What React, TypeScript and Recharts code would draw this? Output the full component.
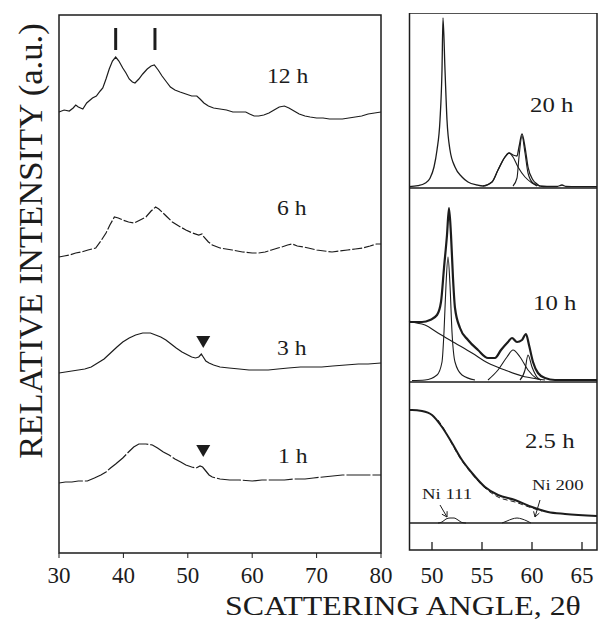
import { LineChart, Line, XAxis, YAxis, ReferenceArea, ReferenceLine, ReferenceDot } from 'recharts';

// left panel: milling time traces, 2θ vs relative intensity (a.u., stacked)
const LEFT_TICKS = [30, 40, 50, 60, 70, 80];
const RIGHT_TICKS = [50, 55, 60, 65];

const H12 = [
  [30, 441], [30.8, 443], [31.6, 442], [32.2, 445], [32.6, 448], [33.0, 446], [33.7, 444], [34.3, 450],
  [35.2, 455], [35.8, 457], [36.4, 462], [36.8, 465], [37.3, 474], [37.8, 484], [38.3, 492], [38.8, 496],
  [39.3, 492], [39.9, 485], [40.4, 480], [40.9, 474], [41.4, 471], [41.8, 470], [42.4, 474], [43.0, 479],
  [43.7, 484], [44.3, 487], [44.8, 488], [45.4, 483], [46.0, 477], [46.7, 471], [47.3, 466], [48.0, 463],
  [48.8, 461], [49.7, 459], [50.6, 457], [51.4, 457], [51.9, 454], [52.5, 450], [53.2, 447], [54.0, 445],
  [55.0, 444], [56.0, 443], [57.0, 441], [58.0, 441], [59.0, 441], [59.6, 439], [60.3, 437], [61.0, 437],
  [61.8, 438], [62.6, 440], [63.4, 443], [64.2, 446], [65.0, 447], [65.7, 445], [66.5, 442], [67.3, 439],
  [68.2, 437], [69.0, 436], [70.0, 435], [71.0, 435], [72.0, 434], [73.0, 434], [74.0, 434], [75.0, 435],
  [76.0, 436], [77.0, 437], [78.0, 439], [79.0, 440], [80, 441],
];
const H6 = [
  [30, 296], [30.8, 297], [31.6, 298], [32.6, 300], [33.5, 301], [34.5, 303], [35.7, 305], [36.5, 312],
  [37.3, 320], [37.9, 328], [38.6, 336], [39.2, 335], [39.9, 333], [40.8, 331], [41.7, 330], [42.6, 333],
  [43.5, 336], [44.3, 342], [45.0, 346], [45.5, 344], [46.0, 341], [46.8, 336], [47.6, 331], [48.6, 327],
  [49.7, 323], [50.7, 320], [51.7, 318], [52.2, 319], [52.5, 316], [53.2, 311], [53.8, 308], [55.0, 305],
  [56.9, 303], [58.5, 301], [60.0, 300], [61.0, 300], [62.0, 301], [63.0, 303], [64.0, 305], [64.6, 306],
  [65.5, 308], [66.2, 309], [67.0, 307], [68.0, 306], [68.7, 305], [70.0, 303], [71.2, 302], [72.4, 301],
  [73.5, 302], [74.8, 303], [76.0, 304], [77.2, 305], [78.3, 307], [79.3, 309], [80, 309],
];
const H3 = [
  [30, 180], [31.0, 181], [32.0, 182], [33.0, 183], [34.0, 184], [35.0, 186], [36.0, 190], [37.0, 194],
  [38.0, 200], [39.0, 206], [39.9, 211], [40.9, 215], [41.9, 218], [43.0, 220], [44.2, 220], [45.0, 218],
  [45.8, 216], [46.6, 213], [47.4, 209], [48.2, 205], [49.1, 201], [50.0, 198], [50.6, 196], [51.2, 195],
  [51.7, 196], [52.1, 199], [52.4, 196], [52.8, 192], [53.3, 190], [54.0, 188], [55.0, 186], [56.4, 185],
  [58.0, 184], [59.5, 183], [61.0, 183], [62.5, 183], [64.0, 184], [65.6, 185], [67.5, 186], [69.0, 186],
  [70.8, 186], [72.5, 187], [74.5, 188], [76.5, 189], [78.0, 189], [80, 190],
];
const H1 = [
  [30, 70], [31.0, 71], [32.0, 71], [33.0, 72], [34.4, 72], [35.5, 75], [36.5, 78], [37.3, 81], [38.0, 85],
  [38.8, 89], [39.9, 95], [40.8, 101], [41.6, 106], [42.4, 109], [43.5, 109], [44.5, 108], [45.3, 105],
  [46.2, 101], [47.1, 98], [48.0, 94], [48.9, 91], [49.7, 88], [50.6, 86], [51.3, 85], [51.9, 87], [52.3, 86],
  [52.8, 82], [53.3, 78], [53.8, 76], [55.0, 74], [56.5, 73], [58.0, 73], [60.0, 72], [61.5, 73], [63.1, 73],
  [65.0, 73], [66.5, 74], [68.2, 74], [69.5, 75], [71.0, 76], [72.5, 77], [74.0, 78], [75.5, 78], [77.0, 78],
  [78.5, 78], [80, 78],
];

// right panels: fitted profiles
const P20_TOTAL = [
  [47.7, 0.3], [48.6, 1.3], [49.3, 3.7], [49.8, 8.7], [50.2, 20], [50.5, 37], [50.8, 67], [51.0, 117],
  [51.1, 169], [51.3, 117], [51.5, 67], [51.8, 37], [52.3, 20], [53.0, 10], [53.6, 5], [54.5, 2], [55.1, 1],
  [56.0, 5], [56.6, 17], [57.3, 30], [57.7, 34], [58.1, 32], [58.5, 31], [58.7, 40], [59.0, 53], [59.3, 40],
  [59.6, 20], [60.1, 7], [60.5, 3], [60.8, 1], [61.5, 0.5], [62.5, 0.5], [63.0, 2], [63.4, 0.5], [64.5, 0.3],
  [66.5, 0.3],
];
const P20_BROAD = [
  [55.1, 1], [56.0, 5], [56.6, 17], [57.3, 30], [57.7, 34], [58.1, 30], [58.6, 20], [59.3, 10], [60.0, 4], [60.5, 1],
];
const P20_SHARP = [
  [58.1, 1], [58.5, 9], [58.7, 30], [59.0, 51], [59.3, 34], [59.6, 14], [60.1, 4], [60.8, 1],
];

const P10_TOTAL = [
  [47.7, 60], [48.0, 60], [49.0, 60], [49.8, 62], [50.5, 67], [50.9, 80], [51.2, 114], [51.5, 147], [51.7, 174],
  [51.9, 147], [52.1, 104], [52.3, 74], [52.8, 54], [53.6, 42], [54.6, 32], [55.6, 24], [56.3, 24], [56.9, 32],
  [57.6, 40], [58.0, 44], [58.5, 40], [59.0, 42], [59.4, 48], [59.7, 37], [60.1, 20], [60.6, 9], [61.3, 4],
  [62.3, 2], [66.5, 2],
];
const P10_BACKGROUND = [
  [47.7, 61], [48.0, 60], [49.3, 57], [50.6, 49], [52.3, 39], [54.0, 29], [55.6, 19], [57.3, 12], [59.0, 6],
  [60.6, 3], [61.3, 2],
];
const P10_MAIN = [
  [48.0, 1.5], [49.3, 2], [50.5, 7], [51.0, 20], [51.2, 50], [51.4, 97], [51.6, 125], [51.8, 97], [52.0, 50],
  [52.3, 20], [53.0, 7], [54.3, 2],
];
const P10_BROAD = [
  [55.6, 2], [56.6, 12], [57.5, 25], [58.1, 32], [58.8, 25], [59.6, 12], [60.4, 4], [60.9, 2],
];
const P10_SHARP = [
  [58.8, 2], [59.3, 12], [59.6, 27], [60.0, 15], [60.5, 5], [60.9, 2],
];

const P25_MEASURED = [
  [47.7, 140], [48.0, 140], [49.0, 139], [50.0, 135], [51.0, 123], [52.0, 107], [53.0, 90], [54.0, 77],
  [55.3, 63], [56.6, 55], [58.3, 50], [60.0, 43], [61.6, 38], [63.3, 36], [66.5, 34],
];
const P25_FIT = [
  [50.6, 130], [51.2, 121], [52.0, 106], [53.0, 89], [54.0, 76], [55.3, 62], [56.6, 53], [58.3, 48],
  [60.0, 42], [61.0, 39],
];
const NI111 = [
  [50.6, 27], [51.0, 28], [51.4, 31], [51.8, 32], [52.2, 32], [52.6, 30], [53.0, 27.5], [53.4, 27],
];
const NI200 = [
  [57.0, 27], [57.5, 29], [58.0, 31], [58.5, 32], [59.0, 31], [59.5, 29], [59.9, 27],
];

const pts = (arr: number[][]) => arr.map(([x, y]) => ({ x, y }));

const INK = '#1c1c1c';
const SERIF = 'Liberation Serif';
const tickFont = { fontSize: 23, fontFamily: SERIF, fill: INK };

function trace(data: number[][], key: string, width = 1.2, dash?: string, smooth = false) {
  return (
    <Line
      key={key}
      data={pts(data)}
      dataKey="y"
      type={smooth ? 'monotone' : 'linear'}
      stroke={INK}
      strokeWidth={width}
      strokeDasharray={dash}
      dot={false}
      activeDot={false}
      isAnimationActive={false}
    />
  );
}

const triangle = (props: any) => {
  const { cx, cy } = props;
  return <path d={`M${cx - 7},${cy - 6} L${cx + 7},${cy - 6} L${cx},${cy + 6} Z`} fill={INK} />;
};

const RIGHT_DOMAIN: [number, number] = [47.75, 66.5];
const RIGHT_MARGIN = { top: 0, left: 9, right: 8, bottom: 0 };

export default function App() {
  return (
    <div style={{ position: 'absolute', left: 0, top: 0, width: 605, height: 621, background: '#fff', fontFamily: SERIF }}>
      <div style={{ position: 'absolute', left: 0, top: 0 }}>
        <LineChart width={420} height={621} margin={{ top: 15, left: 59, right: 39, bottom: 28 }} style={{ fontFamily: SERIF }}>
          <XAxis
            type="number"
            dataKey="x"
            domain={[30, 80]}
            ticks={LEFT_TICKS}
            allowDuplicatedCategory={false}
            height={40}
            axisLine={false}
            tickSize={5}
            tickMargin={9}
            tickLine={{ stroke: INK }}
            tick={tickFont}
          />
          <YAxis type="number" domain={[0, 538]} hide />
          <ReferenceArea x1={30} x2={80} y1={0} y2={538} fill="none" stroke={INK} strokeWidth={1.5} />
          {trace(H12, 'h12')}
          {trace(H6, 'h6', 1.2, '10 2')}
          {trace(H3, 'h3')}
          {trace(H1, 'h1', 1.2, '24 2')}
          <ReferenceLine segment={[{ x: 38.8, y: 503 }, { x: 38.8, y: 525 }]} stroke={INK} strokeWidth={3} />
          <ReferenceLine segment={[{ x: 44.9, y: 503 }, { x: 44.9, y: 525 }]} stroke={INK} strokeWidth={3} />
          <ReferenceDot x={52.4} y={211} r={0} shape={triangle} />
          <ReferenceDot x={52.4} y={102} r={0} shape={triangle} />
        </LineChart>
      </div>

      <div style={{ position: 'absolute', left: 400, top: 13 }}>
        <LineChart width={205} height={175} margin={RIGHT_MARGIN}>
          <XAxis type="number" dataKey="x" domain={RIGHT_DOMAIN} hide />
          <YAxis type="number" domain={[-1, 174]} hide />
          <ReferenceArea x1={RIGHT_DOMAIN[0]} x2={RIGHT_DOMAIN[1]} y1={-1} y2={174} fill="none" stroke={INK} strokeWidth={1.5} />
          {trace(P20_TOTAL, 't20', 1.3, undefined, true)}
          {trace(P20_BROAD, 'b20', 1.1, undefined, true)}
          {trace(P20_SHARP, 's20', 1.1, undefined, true)}
        </LineChart>
      </div>

      <div style={{ position: 'absolute', left: 400, top: 188 }}>
        <LineChart width={205} height={194} margin={RIGHT_MARGIN}>
          <XAxis type="number" dataKey="x" domain={RIGHT_DOMAIN} hide />
          <YAxis type="number" domain={[0, 194]} hide />
          <ReferenceArea x1={RIGHT_DOMAIN[0]} x2={RIGHT_DOMAIN[1]} y1={0} y2={194} fill="none" stroke={INK} strokeWidth={1.5} />
          {trace(P10_BACKGROUND, 'bg10', 1.1, undefined, true)}
          {trace(P10_MAIN, 'm10', 1.1, undefined, true)}
          {trace(P10_BROAD, 'b10', 1.1, undefined, true)}
          {trace(P10_SHARP, 's10', 1.1, undefined, true)}
          {trace(P10_TOTAL, 't10', 2.2, undefined, true)}
        </LineChart>
      </div>

      <div style={{ position: 'absolute', left: 400, top: 382 }}>
        <LineChart width={205} height={208} margin={RIGHT_MARGIN} style={{ fontFamily: SERIF }}>
          <XAxis
            type="number"
            dataKey="x"
            domain={RIGHT_DOMAIN}
            ticks={RIGHT_TICKS}
            height={40}
            axisLine={false}
            tickLine={false}
            tickSize={0}
            tickMargin={17}
            tick={tickFont}
          />
          <YAxis type="number" domain={[0, 168]} hide />
          <ReferenceArea x1={RIGHT_DOMAIN[0]} x2={RIGHT_DOMAIN[1]} y1={0} y2={168} fill="none" stroke={INK} strokeWidth={1.5} />
          <ReferenceLine y={27} stroke={INK} strokeWidth={1.5} />
          {RIGHT_TICKS.map((t) => (
            <ReferenceLine key={t} segment={[{ x: t, y: 0 }, { x: t, y: 8 }]} stroke={INK} strokeWidth={1.3} />
          ))}
          {trace(P25_FIT, 'f25', 1, '5 3', true)}
          {trace(P25_MEASURED, 'm25', 2, undefined, true)}
          {trace(NI111, 'ni111', 1, undefined, true)}
          {trace(NI200, 'ni200', 1, undefined, true)}
          <ReferenceLine segment={[{ x: 50.8, y: 45 }, { x: 51.5, y: 33 }]} stroke={INK} strokeWidth={1} />
          <ReferenceLine segment={[{ x: 51.51, y: 38.8 }, { x: 51.5, y: 33 }]} stroke={INK} strokeWidth={1} />
          <ReferenceLine segment={[{ x: 50.99, y: 35.8 }, { x: 51.5, y: 33 }]} stroke={INK} strokeWidth={1} />
          <ReferenceLine segment={[{ x: 60.8, y: 50 }, { x: 60.3, y: 33 }]} stroke={INK} strokeWidth={1} />
          <ReferenceLine segment={[{ x: 60.73, y: 36.9 }, { x: 60.3, y: 33 }]} stroke={INK} strokeWidth={1} />
          <ReferenceLine segment={[{ x: 60.16, y: 38.7 }, { x: 60.3, y: 33 }]} stroke={INK} strokeWidth={1} />
        </LineChart>
      </div>

      <svg
        width={605}
        height={621}
        style={{ position: 'absolute', left: 0, top: 0, pointerEvents: 'none' }}
        fontFamily={SERIF}
        fill={INK}
      >
        <text transform="translate(42,241) rotate(-90) scale(1.05,1)" textAnchor="middle" fontSize={33}>
          RELATIVE INTENSITY (a.u.)
        </text>
        <text transform="translate(225,615) scale(1.18,1)" fontSize={27}>
          SCATTERING ANGLE, 2θ
        </text>
        <text transform="translate(267,83) scale(1.18,1)" fontSize={20}>12 h</text>
        <text transform="translate(277,215) scale(1.18,1)" fontSize={20}>6 h</text>
        <text transform="translate(277,355) scale(1.18,1)" fontSize={20}>3 h</text>
        <text transform="translate(278,463) scale(1.18,1)" fontSize={20}>1 h</text>
        <text transform="translate(530,112) scale(1.18,1)" fontSize={21}>20 h</text>
        <text transform="translate(533,310) scale(1.18,1)" fontSize={21}>10 h</text>
        <text transform="translate(525,448) scale(1.18,1)" fontSize={21}>2.5 h</text>
        <text transform="translate(422,499) scale(1.25,1)" fontSize={15}>Ni 111</text>
        <text transform="translate(532,490) scale(1.25,1)" fontSize={15}>Ni 200</text>
      </svg>
    </div>
  );
}
